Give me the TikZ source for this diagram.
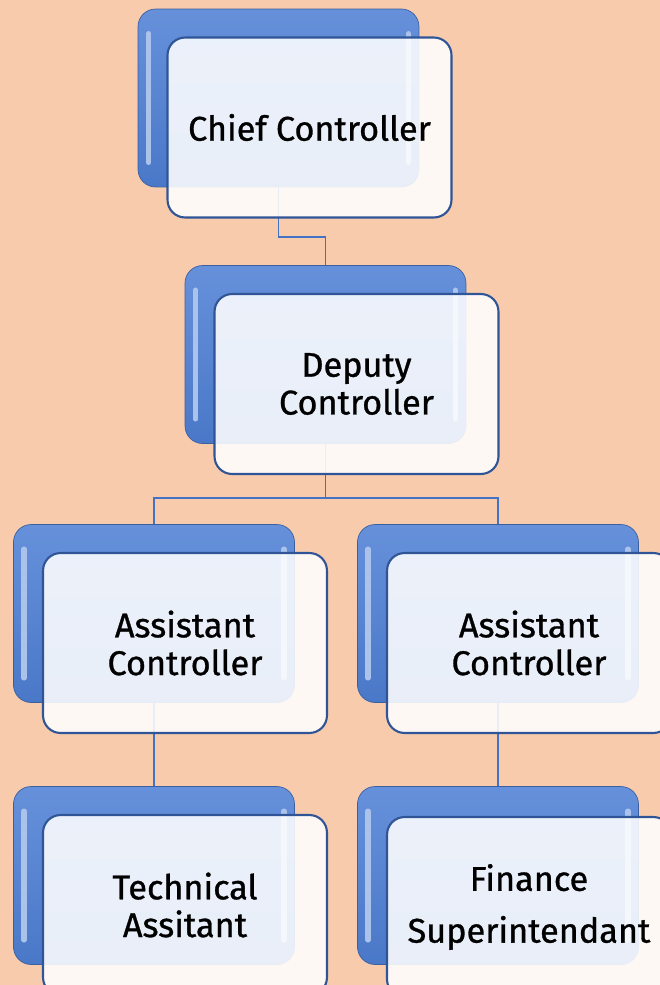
\documentclass[tikz,border=0pt]{standalone}
\usepackage{fontspec}
\setsansfont{Fira Sans}[BoldFont={Fira Sans}, BoldFeatures={FakeBold=0.9}]
\renewcommand{\familydefault}{\sfdefault}
\definecolor{peach}{HTML}{F8CBAD}
\definecolor{boxblue}{HTML}{4A78C8}
\definecolor{boxlight}{HTML}{6690DA}
\definecolor{boxedge}{HTML}{2F5597}
\definecolor{linkblue}{HTML}{4472C4}
\begin{document}
\begin{tikzpicture}[x=0.02cm, y=-0.02cm,
    back/.style={rounded corners=10pt, minimum width=5.62cm, minimum height=3.56cm,
        top color=boxlight, bottom color=boxblue, draw=boxblue!80!black, line width=0.4pt,
        path picture={
            \draw[white!45!boxlight, line width=3pt, line cap=round]
                ([xshift=6pt,yshift=-14pt]path picture bounding box.north west) --
                ([xshift=6pt,yshift=14pt]path picture bounding box.south west);
            \draw[white!45!boxlight, line width=3pt, line cap=round]
                ([xshift=-6pt,yshift=-14pt]path picture bounding box.north east) --
                ([xshift=-6pt,yshift=14pt]path picture bounding box.south east);
        }},
    front/.style={rounded corners=10pt, minimum width=5.68cm, minimum height=3.6cm,
        fill=white, fill opacity=0.88, text opacity=1, draw=boxedge, line width=1.2pt,
        align=center, font=\bfseries\fontsize{19.5}{21.5}\selectfont},
    link/.style={draw=linkblue, line width=1.1pt}]
    % page
    \fill[peach] (0,0) rectangle (660,985);
    \useasboundingbox (0,0) rectangle (660,985);
    \clip (0,0) rectangle (660,985);
    % blue boxes behind
    \foreach \n/\x/\y in {chief/309.5/127.5, deputy/356.5/384, asstl/185/643,
                          asstr/529/643, tech/185/905, fin/529/905} {
        \node[back] (\n b) at (\x-31,\y-29.5) {};
        }
    % connectors
    \draw[link] (chiefb.south) -- ++(0,50) -| (deputyb.north);
    \draw[link] (deputyb.south) -- ++(0,54) -| (asstlb.north);
    \draw[link] (deputyb.south) ++(0,54) -| (asstrb.north);
    \draw[link] (asstlb.south) -- (techb.north);
    \draw[link] (asstrb.south) -- (finb.north);
    % light boxes in front
    \foreach \n/\x/\y/\t in {chief/309.5/127.5/{Chief Controller},
                             deputy/356.5/384/{Deputy\\Controller},
                             asstl/185/643/{Assistant\\Controller},
                             asstr/529/643/{Assistant\\Controller},
                             tech/185/905/{Technical\\Assitant},
                             fin/529/907/{Finance\\[8pt]Superintendant}} {
        \node[front] (\n) at (\x,\y) {\t};
        }
\end{tikzpicture}
\end{document}
